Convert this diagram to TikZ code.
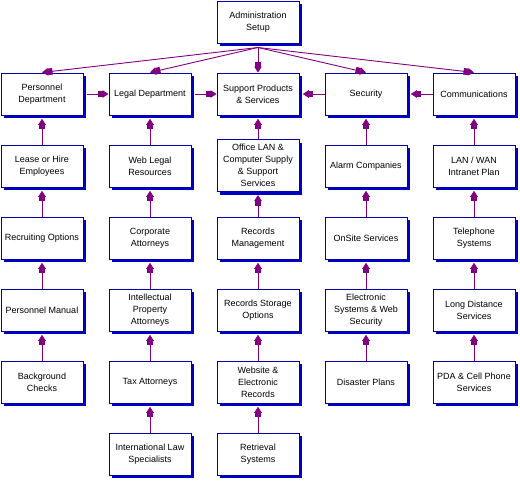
\documentclass[tikz,border=0pt]{standalone}
\usepackage{fontspec}
\setmainfont{Liberation Sans}
\usetikzlibrary{arrows.meta,shadows}
\definecolor{bordblue}{RGB}{0,0,170}
\definecolor{shadblue}{RGB}{0,0,192}
\definecolor{connpurple}{RGB}{128,0,128}
\tikzset{
  box/.style={draw=bordblue, line width=1pt, fill=white,
    minimum width=82pt, minimum height=42pt, inner sep=0pt, align=center,
    font=\fontsize{9}{12}\selectfont,
    drop shadow={shadow xshift=3.3pt, shadow yshift=-3.3pt, fill=shadblue, opacity=1}},
  tallbox/.style={box, minimum height=52pt},
  conn/.style={draw=connpurple, line width=0.9pt,
    -{Rectangle[length=4.5pt,width=6.5pt,sep=0pt]Triangle[length=6pt,width=7.5pt]}}
}
\begin{document}
\begin{tikzpicture}[x=1pt,y=-1pt]
\useasboundingbox (0,0) rectangle (520,480);
% row 0
\node[box] (admin) at (258,22) {Administration\\Setup};
% row 1
\node[box] (pers) at (42,94) {Personnel\\Department};
\node[box] (legal) at (150,94) {Legal Department};
\node[box] (supp) at (258,94) {Support Products\\\& Services};
\node[box] (sec) at (366,94) {Security};
\node[box] (comm) at (474,94) {Communications};
% row 2
\node[box] (lease) at (42,166) {Lease or Hire\\Employees};
\node[box] (web) at (150,166) {Web Legal\\Resources};
\node[tallbox] (office) at (258,165.2) {Office LAN \&\\Computer Supply\\\& Support\\Services};
\node[box] (alarm) at (366,166) {Alarm Companies};
\node[box] (lan) at (474,166) {LAN / WAN\\Intranet Plan};
% row 3
\node[box] (recr) at (42,238) {Recruiting Options};
\node[box] (corp) at (150,238) {Corporate\\Attorneys};
\node[box] (recm) at (258,238) {Records\\Management};
\node[box] (onsite) at (366,238) {OnSite Services};
\node[box] (tel) at (474,238) {Telephone\\Systems};
% row 4
\node[box] (man) at (42,310) {Personnel Manual};
\node[box] (ip) at (150,310) {Intellectual\\Property\\Attorneys};
\node[box] (stor) at (258,310) {Records Storage\\Options};
\node[box] (elec) at (366,310) {Electronic\\Systems \& Web\\Security};
\node[box] (ld) at (474,310) {Long Distance\\Services};
% row 5
\node[box] (bg) at (42,382) {Background\\Checks};
\node[box] (tax) at (150,382) {Tax Attorneys};
\node[box] (website) at (258,382) {Website \&\\Electronic\\Records};
\node[box] (dis) at (366,382) {Disaster Plans};
\node[box] (pda) at (474,382) {PDA \& Cell Phone\\Services};
% row 6
\node[box] (intl) at (150,454) {International Law\\Specialists};
\node[box] (retr) at (258,454) {Retrieval\\Systems};
% admin connectors
\coordinate (aout) at ([yshift=-4pt]admin.south);
\foreach \t in {pers,legal,supp,sec,comm}
  \draw[conn] (aout) -- (\t.north);
% horizontal connectors
\draw[conn] ([xshift=3.3pt]pers.east) -- (legal.west);
\draw[conn] ([xshift=3.3pt]legal.east) -- (supp.west);
\draw[conn] (sec.west) -- ([xshift=3.3pt]supp.east);
\draw[conn] (comm.west) -- ([xshift=3.3pt]sec.east);
% vertical chains
\foreach \c/\p in {lease/pers,recr/lease,man/recr,bg/man,
  web/legal,corp/web,ip/corp,tax/ip,intl/tax,
  office/supp,recm/office,stor/recm,website/stor,retr/website,
  alarm/sec,onsite/alarm,elec/onsite,dis/elec,
  lan/comm,tel/lan,ld/tel,pda/ld}
  \draw[conn] (\c.north) -- ([yshift=-3.3pt]\p.south);
\end{tikzpicture}
\end{document}
